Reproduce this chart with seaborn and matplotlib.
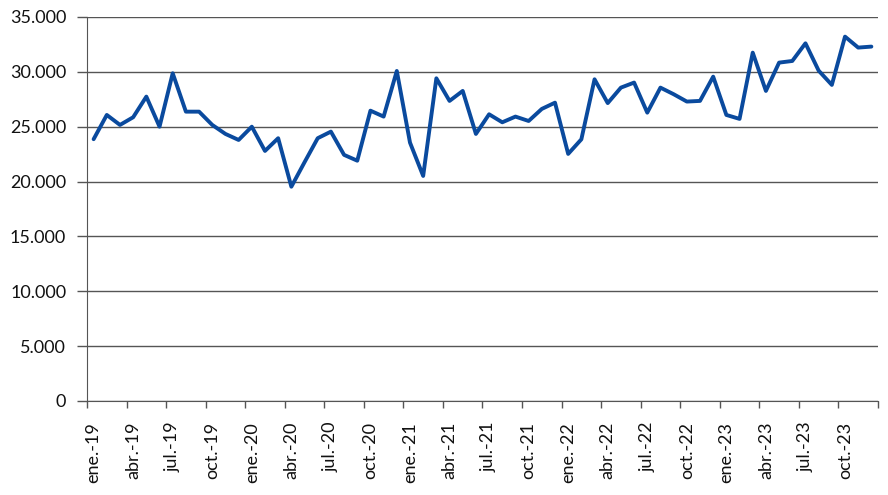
import numpy as np
import pandas as pd
import seaborn as sns
from matplotlib import pyplot as plt
from matplotlib.ticker import FuncFormatter, FixedLocator

# monthly values, ene.19 .. dic.23
months_es = ['ene.', 'feb.', 'mar.', 'abr.', 'may.', 'jun.',
             'jul.', 'ago.', 'sep.', 'oct.', 'nov.', 'dic.']
years = ['19', '20', '21', '22', '23']
valores = [23860, 26070, 25160, 25860, 27740, 25000, 29870, 26370, 26370, 25160, 24340, 23790,
           25000, 22790, 23950, 19530, 21760, 23950, 24550, 22430, 21900, 26460, 25920, 30080,
           23550, 20510, 29410, 27350, 28260, 24340, 26130, 25400, 25920, 25520, 26620, 27190,
           22520, 23850, 29320, 27150, 28560, 29020, 26280, 28560, 27960, 27290, 27350, 29560,
           26070, 25710, 31750, 28260, 30840, 30990, 32600, 30110, 28810, 33210, 32210, 32300]

etiquetas = [m + '-' + y for y in years for m in months_es]

df = pd.DataFrame({'pos': np.arange(len(valores)), 'valor': valores, 'mes': etiquetas})

sns.set_style('white')
plt.rcParams['font.family'] = ['Lato', 'DejaVu Sans']

fig = plt.figure(figsize=(8.88, 4.95), dpi=100)
ax = fig.add_axes([0.098, 0.19, 0.8907, 0.7757])

sns.lineplot(data=df, x='pos', y='valor', color='#0A4A9E', linewidth=2.8, ax=ax)

ax.set_xlim(-0.5, len(valores) - 0.5)
ax.set_ylim(0, 35000)
ax.set_yticks(np.arange(0, 35001, 5000))
ax.yaxis.set_major_formatter(FuncFormatter(lambda v, p: f'{int(v):,}'.replace(',', '.')))
ax.grid(axis='y', color='#555555', linewidth=1)
ax.set_axisbelow(True)

# category axis: ticks on boundaries every 3 months, labels on category centres
ax.xaxis.set_major_locator(FixedLocator(np.arange(-0.5, len(valores), 3)))
ax.xaxis.set_minor_locator(FixedLocator(df['pos'][::3]))
ax.set_xticklabels([], minor=False)
ax.set_xticklabels(df['mes'][::3], minor=True, rotation=90)
ax.tick_params(axis='x', which='major', direction='out', length=5, width=1, color='#555555', bottom=True)
ax.tick_params(axis='x', which='minor', length=0, pad=15, labelsize=13, labelcolor='#111111')
ax.tick_params(axis='y', direction='out', length=7, width=1, color='#555555', left=True,
               labelsize=13, labelcolor='#111111', pad=8)

for s in ['top', 'right']:
    ax.spines[s].set_visible(False)
ax.spines['left'].set_color('#555555')
ax.spines['bottom'].set_color('#555555')
ax.set_xlabel('')
ax.set_ylabel('')

plt.savefig('out.png', dpi=100)
